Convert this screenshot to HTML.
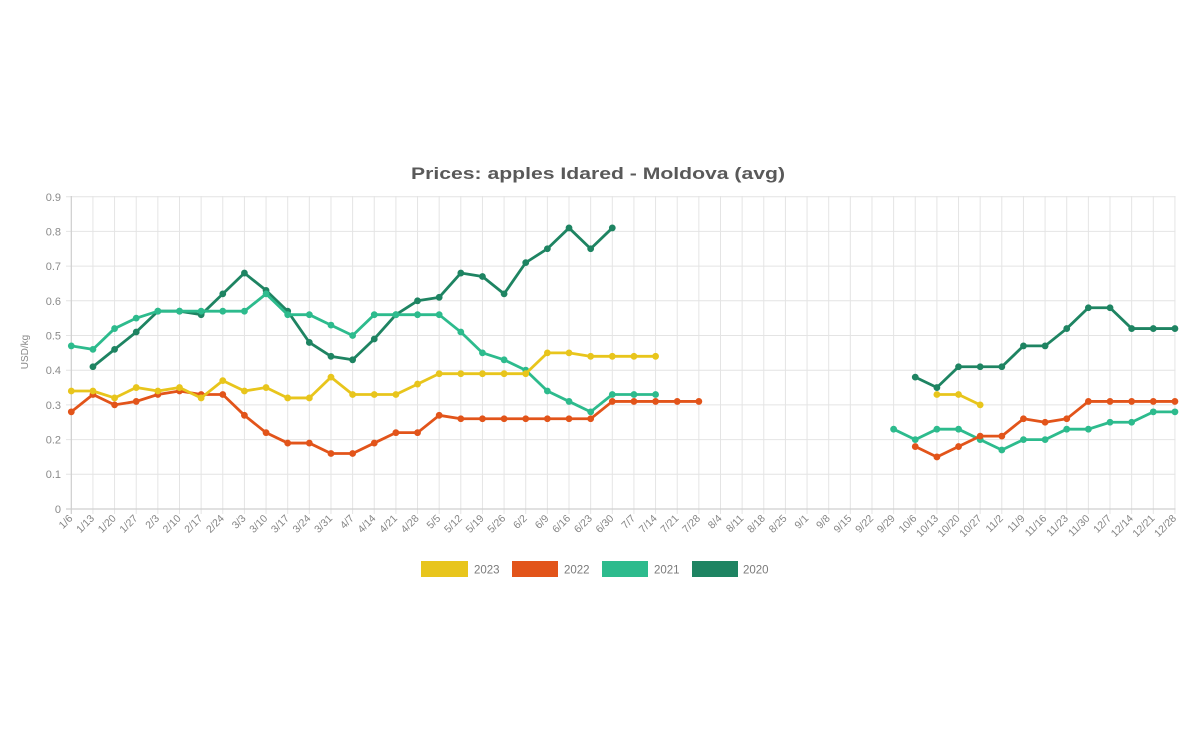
<!DOCTYPE html>
<html><head><meta charset="utf-8"><style>
html,body{margin:0;padding:0;background:#fff;}
svg{display:block;font-family:"Liberation Sans",sans-serif;}
.ln{fill:none;stroke-width:2.8;stroke-linejoin:round;vector-effect:non-scaling-stroke;}
.mk{fill:none;stroke-width:6.8;stroke-linecap:round;vector-effect:non-scaling-stroke;}
.xl{font-size:10.5px;fill:#858585;text-anchor:end;}
.yl{font-size:11px;fill:#8a8a8a;text-anchor:end;}
</style></head><body>
<svg width="1200" height="750" viewBox="0 0 1200 750" xmlns="http://www.w3.org/2000/svg">
<rect width="1200" height="750" fill="#fff"/>
<defs>
<pattern id="vg" patternUnits="userSpaceOnUse" x="70.8" y="196" width="21.64" height="320">
<rect x="0" y="0" width="1" height="320" fill="#e4e4e4"/>
</pattern>
</defs>
<text x="598" y="179" text-anchor="middle" font-size="17" font-weight="bold" fill="#595959" textLength="374" lengthAdjust="spacingAndGlyphs">Prices: apples Idared - Moldova (avg)</text>
<rect x="70.8" y="196" width="1105" height="318" fill="url(#vg)"/>
<g stroke="#e4e4e4" stroke-width="1">
<line x1="66" x2="1175.5" y1="196.7" y2="196.7"/>
<line x1="66" x2="1175.5" y1="231.4" y2="231.4"/>
<line x1="66" x2="1175.5" y1="266.1" y2="266.1"/>
<line x1="66" x2="1175.5" y1="300.8" y2="300.8"/>
<line x1="66" x2="1175.5" y1="335.5" y2="335.5"/>
<line x1="66" x2="1175.5" y1="370.2" y2="370.2"/>
<line x1="66" x2="1175.5" y1="404.9" y2="404.9"/>
<line x1="66" x2="1175.5" y1="439.6" y2="439.6"/>
<line x1="66" x2="1175.5" y1="474.3" y2="474.3"/>
</g>
<line x1="66" x2="1175.5" y1="509" y2="509" stroke="#cfcfcf" stroke-width="1.2"/>
<line x1="71.3" x2="71.3" y1="196" y2="514" stroke="#cfcfcf" stroke-width="1.2"/>
<g class="yl">
<text x="61" y="513">0</text>
<text x="61" y="478">0.1</text>
<text x="61" y="443.5">0.2</text>
<text x="61" y="409">0.3</text>
<text x="61" y="374">0.4</text>
<text x="61" y="339.5">0.5</text>
<text x="61" y="305">0.6</text>
<text x="61" y="270">0.7</text>
<text x="61" y="235.5">0.8</text>
<text x="61" y="201">0.9</text>
</g>
<text transform="translate(28,352) rotate(-90)" text-anchor="middle" font-size="10" fill="#8a8a8a">USD/kg</text>
<g class="xl" transform="translate(-2,1)">
<text transform="translate(75.3,518) rotate(-45)">1/6</text>
<text transform="translate(96.9,518) rotate(-45)">1/13</text>
<text transform="translate(118.6,518) rotate(-45)">1/20</text>
<text transform="translate(140.2,518) rotate(-45)">1/27</text>
<text transform="translate(161.9,518) rotate(-45)">2/3</text>
<text transform="translate(183.5,518) rotate(-45)">2/10</text>
<text transform="translate(205.1,518) rotate(-45)">2/17</text>
<text transform="translate(226.8,518) rotate(-45)">2/24</text>
<text transform="translate(248.4,518) rotate(-45)">3/3</text>
<text transform="translate(270.1,518) rotate(-45)">3/10</text>
<text transform="translate(291.7,518) rotate(-45)">3/17</text>
<text transform="translate(313.3,518) rotate(-45)">3/24</text>
<text transform="translate(335.0,518) rotate(-45)">3/31</text>
<text transform="translate(356.6,518) rotate(-45)">4/7</text>
<text transform="translate(378.3,518) rotate(-45)">4/14</text>
<text transform="translate(399.9,518) rotate(-45)">4/21</text>
<text transform="translate(421.5,518) rotate(-45)">4/28</text>
<text transform="translate(443.2,518) rotate(-45)">5/5</text>
<text transform="translate(464.8,518) rotate(-45)">5/12</text>
<text transform="translate(486.5,518) rotate(-45)">5/19</text>
<text transform="translate(508.1,518) rotate(-45)">5/26</text>
<text transform="translate(529.7,518) rotate(-45)">6/2</text>
<text transform="translate(551.4,518) rotate(-45)">6/9</text>
<text transform="translate(573.0,518) rotate(-45)">6/16</text>
<text transform="translate(594.7,518) rotate(-45)">6/23</text>
<text transform="translate(616.3,518) rotate(-45)">6/30</text>
<text transform="translate(637.9,518) rotate(-45)">7/7</text>
<text transform="translate(659.6,518) rotate(-45)">7/14</text>
<text transform="translate(681.2,518) rotate(-45)">7/21</text>
<text transform="translate(702.9,518) rotate(-45)">7/28</text>
<text transform="translate(724.5,518) rotate(-45)">8/4</text>
<text transform="translate(746.1,518) rotate(-45)">8/11</text>
<text transform="translate(767.8,518) rotate(-45)">8/18</text>
<text transform="translate(789.4,518) rotate(-45)">8/25</text>
<text transform="translate(811.1,518) rotate(-45)">9/1</text>
<text transform="translate(832.7,518) rotate(-45)">9/8</text>
<text transform="translate(854.3,518) rotate(-45)">9/15</text>
<text transform="translate(876.0,518) rotate(-45)">9/22</text>
<text transform="translate(897.6,518) rotate(-45)">9/29</text>
<text transform="translate(919.3,518) rotate(-45)">10/6</text>
<text transform="translate(940.9,518) rotate(-45)">10/13</text>
<text transform="translate(962.5,518) rotate(-45)">10/20</text>
<text transform="translate(984.2,518) rotate(-45)">10/27</text>
<text transform="translate(1005.8,518) rotate(-45)">11/2</text>
<text transform="translate(1027.5,518) rotate(-45)">11/9</text>
<text transform="translate(1049.1,518) rotate(-45)">11/16</text>
<text transform="translate(1070.7,518) rotate(-45)">11/23</text>
<text transform="translate(1092.4,518) rotate(-45)">11/30</text>
<text transform="translate(1114.0,518) rotate(-45)">12/7</text>
<text transform="translate(1135.7,518) rotate(-45)">12/14</text>
<text transform="translate(1157.3,518) rotate(-45)">12/21</text>
<text transform="translate(1178.9,518) rotate(-45)">12/28</text>
</g>

<g transform="translate(71.3,509) scale(21.64,-3.47)">
<!-- 2020 -->
<g stroke="#1e8462">
<polyline class="ln" points="1,41 2,46 3,51 4,57 5,57 6,56 7,62 8,68 9,63 10,57 11,48 12,44 13,43 14,49 15,56 16,60 17,61 18,68 19,67 20,62 21,71 22,75 23,81 24,75 25,81"/>
<polyline class="ln" points="39,38 40,35 41,41 42,41 43,41 44,47 45,47 46,52 47,58 48,58 49,52 50,52 51,52"/>
<path class="mk" d="M1 41h0M2 46h0M3 51h0M4 57h0M5 57h0M6 56h0M7 62h0M8 68h0M9 63h0M10 57h0M11 48h0M12 44h0M13 43h0M14 49h0M15 56h0M16 60h0M17 61h0M18 68h0M19 67h0M20 62h0M21 71h0M22 75h0M23 81h0M24 75h0M25 81h0M39 38h0M40 35h0M41 41h0M42 41h0M43 41h0M44 47h0M45 47h0M46 52h0M47 58h0M48 58h0M49 52h0M50 52h0M51 52h0"/>
</g>
<!-- 2021 -->
<g stroke="#2dbb8d">
<polyline class="ln" points="0,47 1,46 2,52 3,55 4,57 5,57 6,57 7,57 8,57 9,62 10,56 11,56 12,53 13,50 14,56 15,56 16,56 17,56 18,51 19,45 20,43 21,40 22,34 23,31 24,28 25,33 26,33 27,33"/>
<polyline class="ln" points="38,23 39,20 40,23 41,23 42,20 43,17 44,20 45,20 46,23 47,23 48,25 49,25 50,28 51,28"/>
<path class="mk" d="M0 47h0M1 46h0M2 52h0M3 55h0M4 57h0M5 57h0M6 57h0M7 57h0M8 57h0M9 62h0M10 56h0M11 56h0M12 53h0M13 50h0M14 56h0M15 56h0M16 56h0M17 56h0M18 51h0M19 45h0M20 43h0M21 40h0M22 34h0M23 31h0M24 28h0M25 33h0M26 33h0M27 33h0M38 23h0M39 20h0M40 23h0M41 23h0M42 20h0M43 17h0M44 20h0M45 20h0M46 23h0M47 23h0M48 25h0M49 25h0M50 28h0M51 28h0"/>
</g>
<!-- 2022 -->
<g stroke="#e2541a">
<polyline class="ln" points="0,28 1,33 2,30 3,31 4,33 5,34 6,33 7,33 8,27 9,22 10,19 11,19 12,16 13,16 14,19 15,22 16,22 17,27 18,26 19,26 20,26 21,26 22,26 23,26 24,26 25,31 26,31 27,31 28,31 29,31"/>
<polyline class="ln" points="39,18 40,15 41,18 42,21 43,21 44,26 45,25 46,26 47,31 48,31 49,31 50,31 51,31"/>
<path class="mk" d="M0 28h0M1 33h0M2 30h0M3 31h0M4 33h0M5 34h0M6 33h0M7 33h0M8 27h0M9 22h0M10 19h0M11 19h0M12 16h0M13 16h0M14 19h0M15 22h0M16 22h0M17 27h0M18 26h0M19 26h0M20 26h0M21 26h0M22 26h0M23 26h0M24 26h0M25 31h0M26 31h0M27 31h0M28 31h0M29 31h0M39 18h0M40 15h0M41 18h0M42 21h0M43 21h0M44 26h0M45 25h0M46 26h0M47 31h0M48 31h0M49 31h0M50 31h0M51 31h0"/>
</g>
<!-- 2023 -->
<g stroke="#e8c51c">
<polyline class="ln" points="0,34 1,34 2,32 3,35 4,34 5,35 6,32 7,37 8,34 9,35 10,32 11,32 12,38 13,33 14,33 15,33 16,36 17,39 18,39 19,39 20,39 21,39 22,45 23,45 24,44 25,44 26,44 27,44"/>
<polyline class="ln" points="40,33 41,33 42,30"/>
<path class="mk" d="M0 34h0M1 34h0M2 32h0M3 35h0M4 34h0M5 35h0M6 32h0M7 37h0M8 34h0M9 35h0M10 32h0M11 32h0M12 38h0M13 33h0M14 33h0M15 33h0M16 36h0M17 39h0M18 39h0M19 39h0M20 39h0M21 39h0M22 45h0M23 45h0M24 44h0M25 44h0M26 44h0M27 44h0M40 33h0M41 33h0M42 30h0"/>
</g>
</g>

<!-- legend -->
<rect x="421" y="561" width="47" height="16" fill="#e8c51c"/>
<text x="474" y="573.5" font-size="11.5" fill="#7a7a7a">2023</text>
<rect x="512" y="561" width="46" height="16" fill="#e2541a"/>
<text x="564" y="573.5" font-size="11.5" fill="#7a7a7a">2022</text>
<rect x="602" y="561" width="46" height="16" fill="#2dbb8d"/>
<text x="654" y="573.5" font-size="11.5" fill="#7a7a7a">2021</text>
<rect x="692" y="561" width="46" height="16" fill="#1e8462"/>
<text x="743" y="573.5" font-size="11.5" fill="#7a7a7a">2020</text>
</svg>
</body></html>
